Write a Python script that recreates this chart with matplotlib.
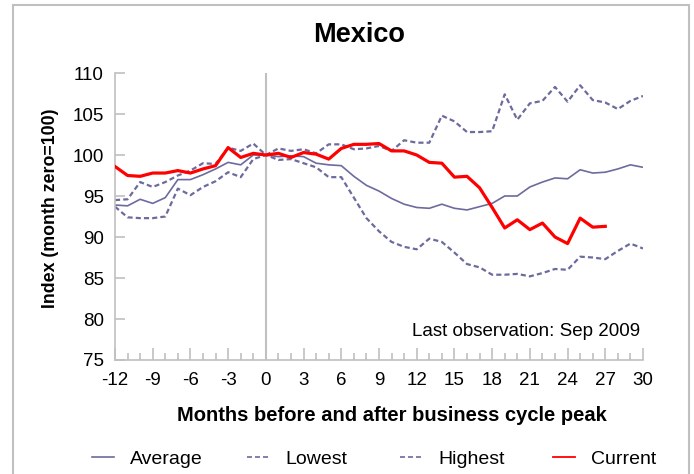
import numpy as np
import matplotlib
matplotlib.use('Agg')
import matplotlib.pyplot as plt
from matplotlib.patches import Rectangle
from matplotlib.lines import Line2D

plt.rcParams['font.family'] = ['Liberation Sans', 'DejaVu Sans']
plt.rcParams['axes.unicode_minus'] = False

months = list(range(-12, 31))
months_current = list(range(-12, 28))

average = [93.9, 93.8, 94.6, 94.1, 94.8, 97.0, 97.0, 97.6, 98.3, 99.1, 98.8, 100.0,
           100.0, 99.8, 99.9, 99.8, 99.0, 98.8, 98.7, 97.4, 96.3, 95.6, 94.7, 94.0,
           93.6, 93.5, 94.0, 93.5, 93.3, 93.7, 94.1, 95.0, 95.0, 96.1, 96.7, 97.2,
           97.1, 98.2, 97.8, 97.9, 98.3, 98.8, 98.5]
lowest = [93.7, 92.4, 92.3, 92.3, 92.5, 95.9, 95.1, 96.1, 96.8, 97.9, 97.3, 99.5,
          100.0, 99.4, 99.5, 99.0, 98.5, 97.3, 97.3, 94.8, 92.3, 90.7, 89.4, 88.8,
          88.5, 89.8, 89.4, 88.1, 86.7, 86.3, 85.4, 85.4, 85.5, 85.2, 85.6, 86.1,
          86.0, 87.6, 87.5, 87.3, 88.3, 89.2, 88.6]
highest = [94.5, 94.6, 96.7, 96.1, 96.7, 97.5, 98.1, 99.0, 98.9, 100.9, 100.5, 101.4,
           100.0, 100.8, 100.5, 100.7, 100.2, 101.3, 101.3, 100.7, 100.8, 101.1, 100.5, 101.8,
           101.5, 101.5, 104.8, 104.1, 102.8, 102.8, 102.9, 107.4, 104.3, 106.3, 106.6, 108.3,
           106.5, 108.5, 106.7, 106.4, 105.6, 106.6, 107.2]
current = [98.6, 97.5, 97.4, 97.8, 97.8, 98.1, 97.8, 98.3, 98.7, 100.9, 99.7, 100.2,
           100.0, 100.2, 99.7, 100.3, 100.1, 99.5, 100.8, 101.3, 101.3, 101.4, 100.5, 100.5,
           100.0, 99.1, 99.0, 97.3, 97.4, 96.0, 93.6, 91.1, 92.1, 90.9, 91.7, 90.0,
           89.2, 92.3, 91.2, 91.3]

blue = '#6B6B9E'
grey = '#C0C0C0'

fig = plt.figure(figsize=(6.94, 4.74), dpi=100)
ax = fig.add_axes([115 / 694, 1 - 360 / 474, 528 / 694, 287 / 474])

# border around the whole chart
fig.patches.append(Rectangle((13 / 694, -0.05), 676 / 694, 1.05 - 4.5 / 474,
                             transform=fig.transFigure, fill=False,
                             edgecolor=grey, linewidth=1.5, clip_on=False))

ax.axvline(0, color=grey, linewidth=1.5, zorder=1)

ax.plot(months, average, color=blue, linewidth=1.2, zorder=2)
ax.plot(months, lowest, color=blue, linewidth=1.6, dashes=(2.3, 1.4), zorder=2)
ax.plot(months, highest, color=blue, linewidth=1.6, dashes=(2.3, 1.4), zorder=2)
ax.plot(months_current, current, color='red', linewidth=2.3, zorder=3)

ax.set_xlim(-12, 30)
ax.set_ylim(75, 110)
ax.set_xticks(range(-12, 31, 3))
ax.set_xticks(range(-12, 31), minor=True)
ax.set_yticks(range(75, 111, 5))

for s in ['top', 'right']:
    ax.spines[s].set_visible(False)
for s in ['left', 'bottom']:
    ax.spines[s].set_color(grey)
    ax.spines[s].set_linewidth(1.2)

ax.tick_params(axis='x', which='major', direction='in', length=9, width=1.2, color=grey,
               labelsize=13.5, pad=8.5)
ax.tick_params(axis='x', which='minor', direction='in', length=5, width=1.2, color=grey)
ax.tick_params(axis='y', direction='in', length=7, width=1.2, color=grey, labelsize=13.5, pad=8)

fig.text(359 / 694, 1 - 35 / 474, 'Mexico', fontsize=19.5, fontweight='bold',
         ha='center', va='center')
ax.set_xlabel('Months before and after business cycle peak', fontsize=14.5, fontweight='bold')
ax.xaxis.set_label_coords(0.525, -0.16)
ax.set_ylabel('Index (month zero=100)', fontsize=12.8, fontweight='bold')
ax.yaxis.set_label_coords(-0.106, 0.528)

ax.text(0.995, 0.098, 'Last observation: Sep 2009', transform=ax.transAxes,
        ha='right', va='center', fontsize=13.5)

# legend entries spaced evenly along the bottom
names = ['Average', 'Lowest', 'Highest', 'Current']
starts = [92, 247, 400, 553]
handles = [Line2D([], [], color=blue, linewidth=1.2),
           Line2D([], [], color=blue, linewidth=1.2, dashes=(3, 1.8)),
           Line2D([], [], color=blue, linewidth=1.2, dashes=(3, 1.8)),
           Line2D([], [], color='red', linewidth=1.3)]
for h, name, x0 in zip(handles, names, starts):
    fig.legend([h], [name], loc='center left', bbox_to_anchor=(x0 / 694, 1 - 459 / 474),
               frameon=False, fontsize=14, handlelength=1.15, handletextpad=0.8,
               borderpad=0, borderaxespad=0)

fig.savefig('out.png', dpi=100)
